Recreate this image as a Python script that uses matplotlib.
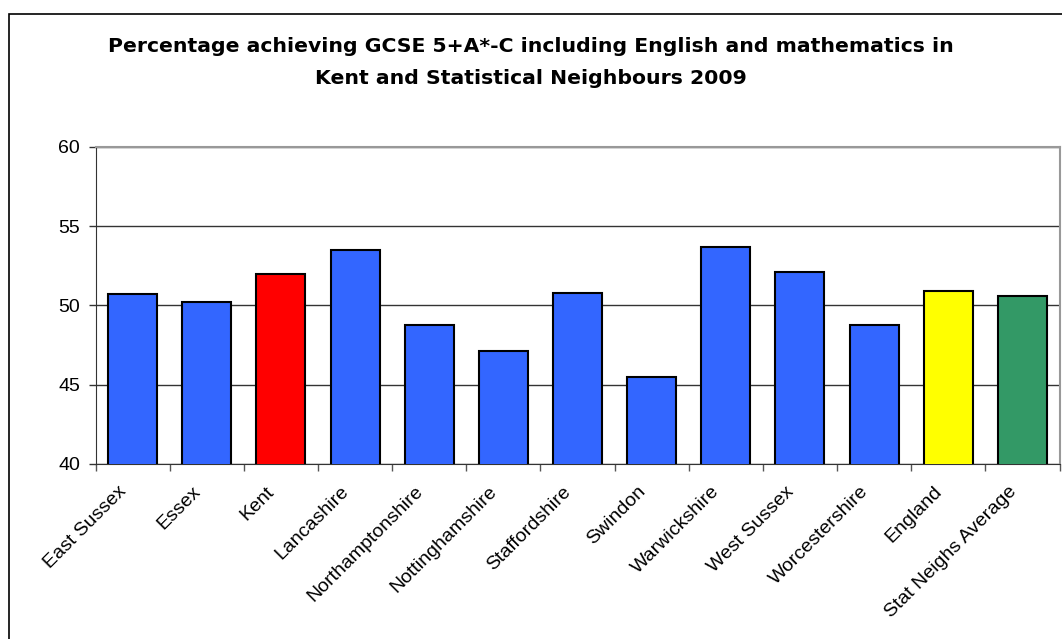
import matplotlib
matplotlib.use('Agg')
import matplotlib.pyplot as plt
from matplotlib.patches import Rectangle

plt.rcParams['font.family'] = ['Liberation Sans', 'DejaVu Sans']

areas = ['East Sussex', 'Essex', 'Kent', 'Lancashire', 'Northamptonshire',
         'Nottinghamshire', 'Staffordshire', 'Swindon', 'Warwickshire',
         'West Sussex', 'Worcestershire', 'England', 'Stat Neighs Average']
pct = [50.7, 50.2, 52.0, 53.5, 48.8, 47.1, 50.8, 45.5, 53.7, 52.1, 48.8, 50.9, 50.6]
colours = ['#3366FF'] * 13
colours[2] = '#FF0000'
colours[11] = '#FFFF00'
colours[12] = '#339966'

fig = plt.figure(figsize=(10.62, 6.39), dpi=100)
ax = fig.add_axes([95.5 / 1062, 1 - 464 / 639, (1059.5 - 95.5) / 1062, (464 - 147) / 639])

x = range(len(areas))
ax.bar(x, pct, width=0.66, color=colours, edgecolor='black', linewidth=1.5, zorder=3)

ax.set_ylim(40, 60)
ax.set_xlim(-0.5, len(areas) - 0.5)
ax.set_yticks([40, 45, 50, 55, 60])
ax.yaxis.grid(True, color='#333333', linewidth=1)
ax.set_axisbelow(True)

# ticks sit between the categories, names drawn as rotated text
ax.set_xticks([i - 0.5 for i in range(len(areas) + 1)])
ax.set_xticklabels([])
for i, name in zip(x, areas):
    ax.text(i - 0.2, -0.06, name, transform=ax.get_xaxis_transform(),
            rotation=45, ha='right', va='top', rotation_mode='anchor', fontsize=14)
ax.tick_params(axis='x', length=5, width=1, color='#555555', direction='out')
ax.tick_params(axis='y', length=5, width=1, color='#333333', labelsize=14, pad=6)

for s in ['top', 'right']:
    ax.spines[s].set_color('#999999')
    ax.spines[s].set_linewidth(1.5)
ax.spines['left'].set_color('#333333')
ax.spines['bottom'].set_color('#333333')

fig.text(0.5, 1 - 46 / 639, 'Percentage achieving GCSE 5+A*-C including English and mathematics in',
         ha='center', va='center', fontsize=14.7, fontweight='bold', family='DejaVu Sans')
fig.text(0.5, 1 - 78 / 639, 'Kent and Statistical Neighbours 2009',
         ha='center', va='center', fontsize=14.7, fontweight='bold', family='DejaVu Sans')

fig.patches.append(Rectangle((8.5 / 1062, -0.1), 1.2, 1.1 - 14 / 639, transform=fig.transFigure,
                             fill=False, edgecolor='black', linewidth=1.2))

fig.savefig('out.png', dpi=100)
